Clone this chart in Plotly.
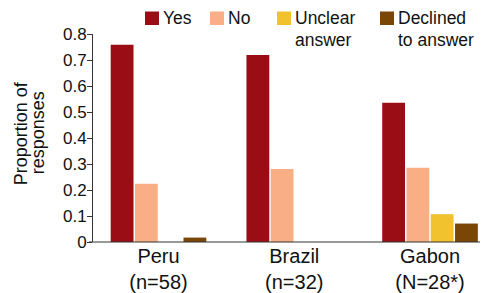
import plotly.graph_objects as go

countries = ["Peru<br>(n=58)", "Brazil<br>(n=32)", "Gabon<br>(N=28*)"]
series_names = ["Yes", "No", "Unclear answer", "Declined to answer"]
legend_lines = [["Yes"], ["No"], ["Unclear", "answer"], ["Declined", "to answer"]]
yes_vals = [0.759, 0.719, 0.536]
no_vals = [0.224, 0.281, 0.286]
unclear_vals = [0.0, 0.0, 0.107]
declined_vals = [0.017, 0.0, 0.071]
colors = ["#9B0D14", "#F9AE86", "#F2C12E", "#7A4606"]
y_ticks = [0, 0.1, 0.2, 0.3, 0.4, 0.5, 0.6, 0.7, 0.8]
y_tick_text = ["0", "0.1", "0.2", "0.3", "0.4", "0.5", "0.6", "0.7", "0.8"]
y_title_lines = ["Proportion of", "responses"]

FONT = "Liberation Sans, Arial, Helvetica, sans-serif"
TXT = "#111111"

fig = go.Figure()
for name, vals, col in zip(series_names, [yes_vals, no_vals, unclear_vals, declined_vals], colors):
    fig.add_trace(go.Bar(x=list(range(len(countries))), y=vals, name=name,
                         marker=dict(color=col, line=dict(width=0))))

# the page body has an 8px margin, so the figure is drawn 8px smaller and offset
OFF = 8
W, H = 488 - OFF, 293 - OFF
AX_LEFT, AX_BOTTOM = 93, 242          # on-screen pixel position of the axes corner
L, R, T, B = AX_LEFT - OFF, 0, 34 - OFF, 293 - AX_BOTTOM
PW, PH = W - L - R, H - T - B


def px(x):
    return (x - AX_LEFT) / PW


def py(y):
    return (AX_BOTTOM - y) / PH


fig.update_layout(
    width=W, height=H,
    margin=dict(l=L, r=R, t=T, b=B, pad=0, autoexpand=False),
    paper_bgcolor="white", plot_bgcolor="white",
    barmode="group", bargap=0.285, bargroupgap=0.06,
    font=dict(family=FONT, color=TXT, size=17),
    showlegend=False,
    xaxis=dict(tickmode="array", tickvals=list(range(len(countries))), ticktext=countries,
               range=[-0.4825, 2.427], showline=False, ticks="", showgrid=False,
               zeroline=False, tickfont=dict(size=20, family=FONT, color=TXT)),
    yaxis=dict(range=[0, 0.8], tickmode="array", tickvals=y_ticks, ticktext=y_tick_text,
               showline=True, linecolor="#333333", linewidth=1, ticks="outside",
               ticklen=5, tickcolor="#333333", showgrid=False, zeroline=False,
               ticklabelstandoff=-3,
               tickfont=dict(size=17, family=FONT, color=TXT)),
)
for txt, cx in zip(y_title_lines, [21, 38]):
    fig.add_annotation(text=txt, xref="paper", yref="paper", x=px(cx), y=0.523,
                       xanchor="center", yanchor="middle", textangle=-90, showarrow=False,
                       font=dict(size=18, family=FONT, color=TXT))
fig.add_shape(type="line", xref="paper", yref="paper", x0=px(89), x1=1, y0=0, y1=0,
              line=dict(color="#333333", width=1))

# legend drawn as keys + labels
key_left = [145, 210, 277, 380]
for lines, col, kx in zip(legend_lines, colors, key_left):
    fig.add_shape(type="rect", xref="paper", yref="paper", x0=px(kx), x1=px(kx + 14),
                  y0=py(25), y1=py(11.5), fillcolor=col, line=dict(width=0), layer="above")
    for i, ln in enumerate(lines):
        fig.add_annotation(text=ln, xref="paper", yref="paper", x=px(kx + 16.5),
                           y=py(18 + 21.5 * i), xanchor="left", yanchor="middle",
                           showarrow=False, borderpad=0,
                           font=dict(size=17.5, family=FONT, color=TXT))
fig.write_html("out.html")
